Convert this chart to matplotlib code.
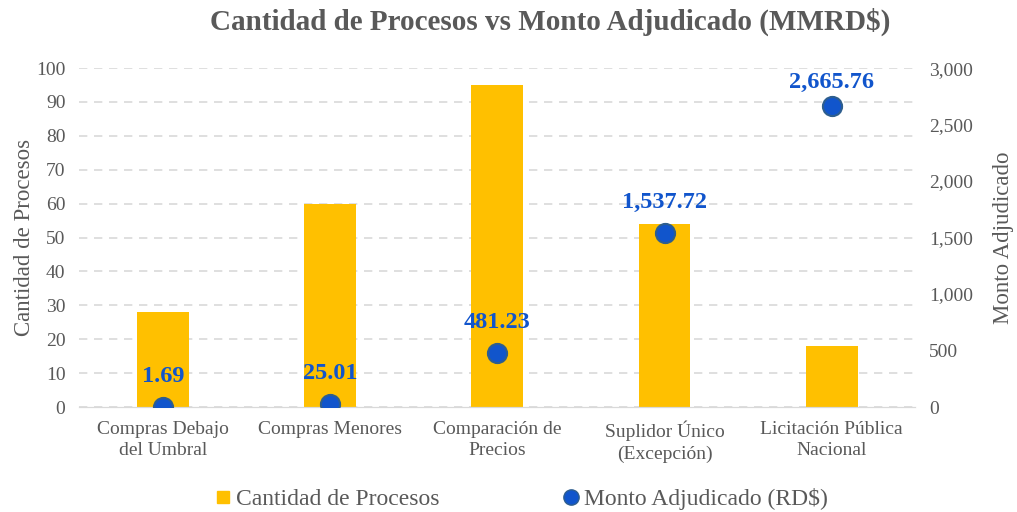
import matplotlib
matplotlib.use("Agg")
import matplotlib.pyplot as plt
from matplotlib.lines import Line2D
from matplotlib.ticker import FuncFormatter

categorias = ["Compras Debajo\ndel Umbral", "Compras Menores", "Comparación de\nPrecios",
              "Suplidor Único\n(Excepción)", "Licitación Pública\nNacional"]
cantidad = [28, 60, 95, 54, 18]
monto = [1.69, 25.01, 481.23, 1537.72, 2665.76]

amarillo = "#FFC000"
azul = "#1155CC"
gris = "#595959"

plt.rcParams["font.family"] = ["Liberation Serif", "DejaVu Serif"]

fig = plt.figure(figsize=(10.17, 5.12), dpi=100)
ax = fig.add_axes([0.078, 0.205, 0.822, 0.662])
ax2 = ax.twinx()

x = list(range(len(categorias)))
ax.bar(x, cantidad, width=0.31, color=amarillo, zorder=2)
ax.set_ylim(0, 100)
ax.set_yticks(range(0, 101, 10))
ax.set_xlim(-0.5, len(categorias) - 0.5)
ax.set_xticks(x)
ax.set_xticklabels(categorias, fontsize=15, color=gris, linespacing=1.35)
ax.yaxis.grid(True, linestyle=(0, (5, 4)), color="#D9D9D9", linewidth=1.2, zorder=0)
ax.set_axisbelow(True)
ax.set_ylabel("Cantidad de Procesos", fontsize=16.5, color=gris, labelpad=1)

ax2.scatter(x, monto, s=190, color=azul, edgecolors="#2E5E8E", linewidths=1.5, zorder=5)
ax2.set_ylim(0, 3000)
ax2.set_yticks(range(0, 3001, 500))
ax2.yaxis.set_major_formatter(FuncFormatter(lambda v, p: f"{int(v):,}"))
ax2.set_ylabel("Monto Adjudicado", fontsize=16.5, color=gris, labelpad=14)

# el ultimo rotulo queda mas pegado al punto (tope del area)
desfases = [14.5, 14.5, 14.5, 14.5, 9]
for xi, m, d in zip(x, monto, desfases):
    ax2.annotate(f"{m:,.2f}", (xi, m), xytext=(0, d), textcoords="offset points",
                 ha="center", va="bottom", fontsize=17.5, fontweight="bold", color=azul)

for a in (ax, ax2):
    for s in ("top", "left", "right"):
        a.spines[s].set_visible(False)
    a.spines["bottom"].set_color("#D9D9D9")
    a.tick_params(axis="both", length=0, labelsize=14, colors=gris, pad=10)
ax.tick_params(axis="y", pad=10)
ax.tick_params(axis="x", pad=10)

fig.suptitle("Cantidad de Procesos vs Monto Adjudicado (MMRD$)", x=0.541, y=0.985,
             fontsize=21, fontweight="bold", color=gris)

handles = [
    Line2D([], [], marker="s", linestyle="none", markersize=9, color=amarillo),
    Line2D([], [], marker="o", linestyle="none", markersize=11, color=azul,
           markeredgecolor="#2E5E8E"),
]
fig.legend(handles, ["Cantidad de Procesos", "Monto Adjudicado (RD$)"], loc="lower center",
           bbox_to_anchor=(0.512, -0.038), ncol=2, frameon=False, fontsize=17,
           handletextpad=0.15, columnspacing=5.2, handlelength=0.8, labelcolor=gris)

fig.savefig("out.png", dpi=100)
